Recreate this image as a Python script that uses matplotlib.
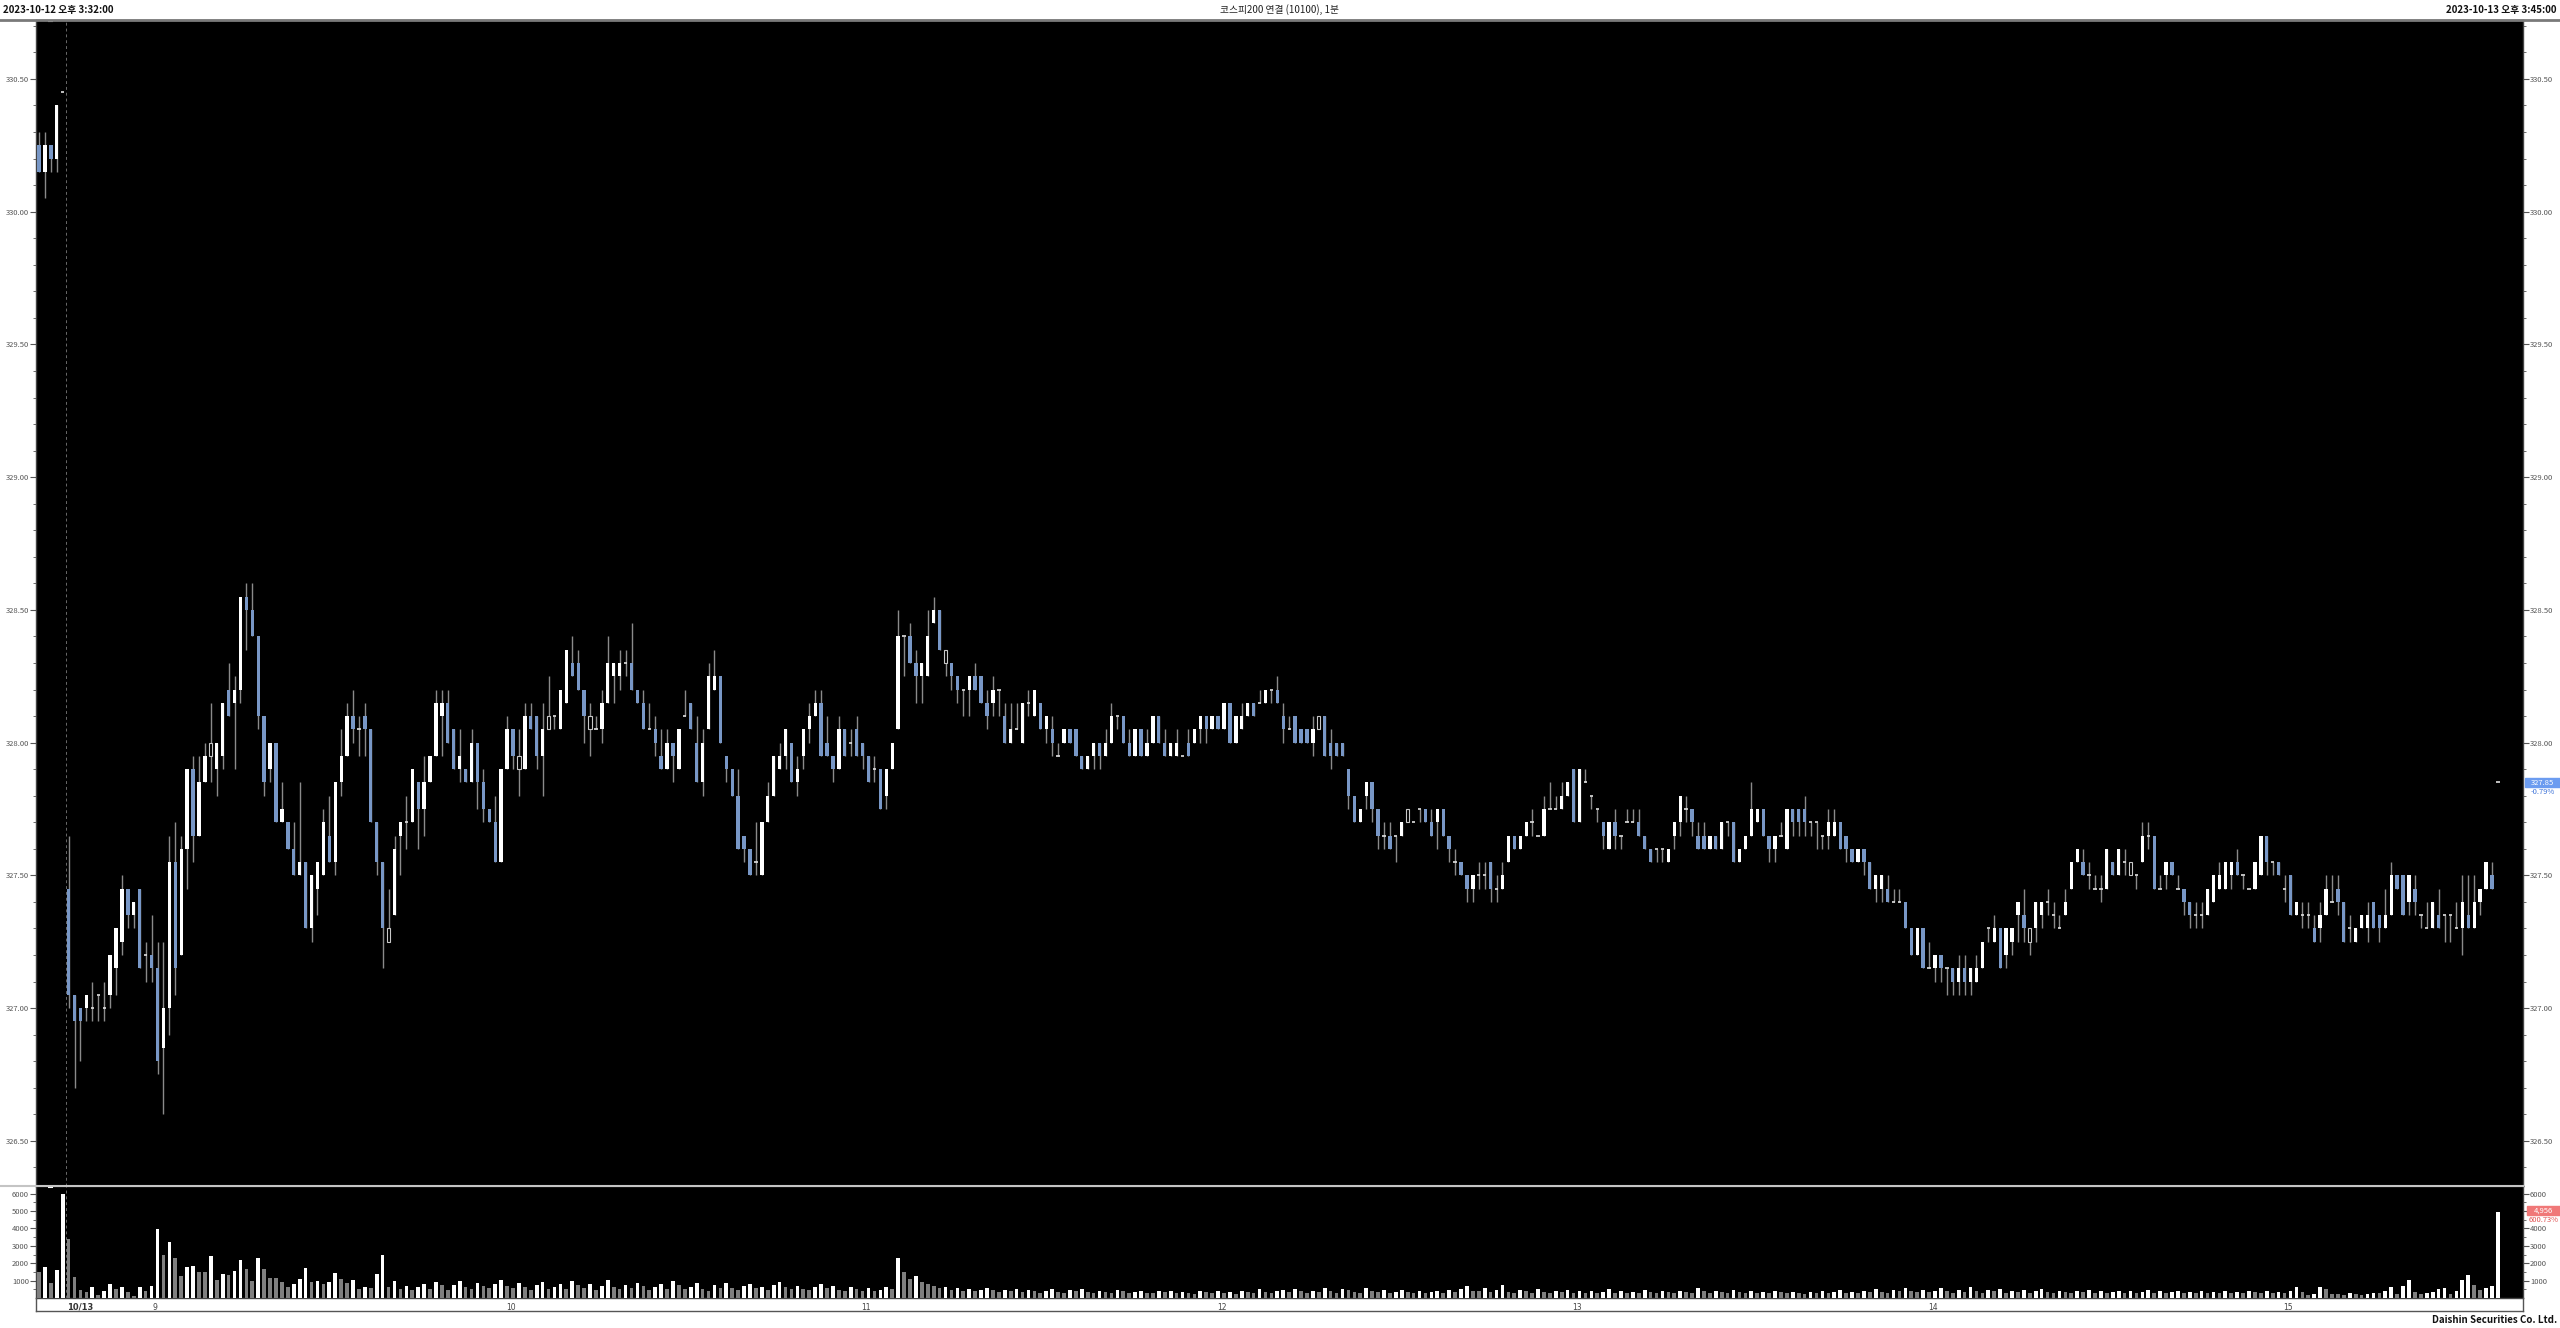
import matplotlib
matplotlib.use("Agg")
import matplotlib.pyplot as plt
import matplotlib.transforms as mtransforms
from matplotlib.patches import Rectangle
from matplotlib.lines import Line2D
import numpy as np

plt.rcParams['font.family'] = ['Noto Sans CJK KR', 'DejaVu Sans']

# 1-minute candles: 5 from 10/12 close, then 10/13 08:45 .. 15:45
opens = [
    330.25, 330.15, 330.25, 330.20, 330.45, 327.45, 327.05, 327.00, 327.00, 327.00,
    327.05, 327.00, 327.05, 327.15, 327.25, 327.45, 327.35, 327.45, 327.20, 327.20,
    327.15, 326.85, 327.00, 327.55, 327.20, 327.60, 327.90, 327.65, 327.85, 327.95,
    327.90, 327.95, 328.20, 328.15, 328.20, 328.55, 328.50, 328.40, 328.10, 327.90,
    328.00, 327.70, 327.70, 327.60, 327.50, 327.55, 327.30, 327.45, 327.50, 327.65,
    327.55, 327.85, 327.95, 328.10, 328.05, 328.10, 328.05, 327.70, 327.55, 327.25,
    327.35, 327.65, 327.70, 327.70, 327.85, 327.75, 327.85, 327.95, 328.10, 328.15,
    328.05, 327.90, 327.90, 327.85, 328.00, 327.85, 327.75, 327.70, 327.55, 327.90,
    328.05, 327.90, 327.90, 328.10, 328.10, 327.95, 328.05, 328.10, 328.05, 328.15,
    328.30, 328.30, 328.20, 328.05, 328.05, 328.05, 328.15, 328.25, 328.25, 328.30,
    328.30, 328.20, 328.15, 328.05, 328.05, 327.95, 327.90, 328.00, 327.90, 328.10,
    328.15, 328.00, 327.85, 328.05, 328.20, 328.25, 327.95, 327.90, 327.80, 327.65,
    327.60, 327.55, 327.50, 327.70, 327.80, 327.90, 327.95, 328.00, 327.85, 327.95,
    328.05, 328.10, 328.15, 328.00, 327.95, 327.90, 328.05, 328.00, 328.05, 328.00,
    327.95, 327.90, 327.90, 327.80, 327.90, 328.05, 328.40, 328.40, 328.30, 328.25,
    328.25, 328.45, 328.50, 328.30, 328.30, 328.25, 328.20, 328.20, 328.25, 328.25,
    328.15, 328.15, 328.20, 328.10, 328.00, 328.05, 328.00, 328.15, 328.10, 328.15,
    328.05, 328.05, 327.95, 328.00, 328.05, 328.05, 327.95, 327.90, 327.95, 328.00,
    327.95, 328.00, 328.10, 328.10, 328.00, 327.95, 328.05, 327.95, 328.00, 328.10,
    328.00, 327.95, 327.95, 327.95, 328.00, 328.00, 328.05, 328.10, 328.05, 328.10,
    328.05, 328.15, 328.00, 328.05, 328.10, 328.15, 328.15, 328.15, 328.20, 328.20,
    328.10, 328.05, 328.10, 328.05, 328.05, 328.00, 328.05, 328.10, 328.00, 328.00,
    328.00, 327.90, 327.80, 327.70, 327.80, 327.85, 327.75, 327.65, 327.65, 327.65,
    327.65, 327.70, 327.70, 327.75, 327.75, 327.70, 327.70, 327.75, 327.65, 327.55,
    327.55, 327.50, 327.45, 327.50, 327.50, 327.55, 327.45, 327.45, 327.55, 327.65,
    327.60, 327.65, 327.70, 327.65, 327.65, 327.75, 327.75, 327.75, 327.80, 327.90,
    327.70, 327.85, 327.80, 327.75, 327.70, 327.60, 327.70, 327.65, 327.70, 327.70,
    327.70, 327.65, 327.60, 327.60, 327.60, 327.55, 327.65, 327.70, 327.75, 327.75,
    327.65, 327.65, 327.60, 327.65, 327.60, 327.70, 327.70, 327.55, 327.60, 327.65,
    327.70, 327.75, 327.65, 327.60, 327.65, 327.60, 327.75, 327.75, 327.75, 327.70,
    327.70, 327.65, 327.65, 327.65, 327.70, 327.65, 327.60, 327.55, 327.60, 327.55,
    327.45, 327.45, 327.45, 327.40, 327.40, 327.40, 327.30, 327.20, 327.30, 327.15,
    327.15, 327.20, 327.15, 327.15, 327.10, 327.15, 327.10, 327.10, 327.15, 327.30,
    327.25, 327.30, 327.20, 327.25, 327.35, 327.35, 327.25, 327.30, 327.35, 327.40,
    327.35, 327.30, 327.35, 327.45, 327.55, 327.55, 327.50, 327.45, 327.45, 327.45,
    327.55, 327.50, 327.55, 327.50, 327.50, 327.55, 327.65, 327.65, 327.45, 327.50,
    327.55, 327.45, 327.45, 327.40, 327.35, 327.35, 327.35, 327.40, 327.45, 327.45,
    327.50, 327.55, 327.50, 327.45, 327.45, 327.50, 327.65, 327.55, 327.55, 327.45,
    327.50, 327.35, 327.35, 327.35, 327.30, 327.30, 327.35, 327.40, 327.45, 327.40,
    327.30, 327.25, 327.30, 327.30, 327.40, 327.35, 327.30, 327.35, 327.50, 327.50,
    327.40, 327.45, 327.35, 327.30, 327.30, 327.35, 327.35, 327.35, 327.30, 327.30,
    327.35, 327.30, 327.40, 327.45, 327.50, 327.85,
]
highs = [
    330.30, 330.30, 330.25, 330.40, 330.45, 327.65, 327.05, 327.00, 327.05, 327.10,
    327.05, 327.10, 327.20, 327.30, 327.50, 327.45, 327.40, 327.45, 327.25, 327.35,
    327.25, 327.25, 327.65, 327.70, 327.65, 327.90, 327.95, 327.95, 328.00, 328.15,
    328.00, 328.15, 328.30, 328.25, 328.55, 328.60, 328.60, 328.40, 328.10, 328.00,
    328.00, 327.85, 327.70, 327.70, 327.85, 327.55, 327.50, 327.55, 327.75, 327.80,
    327.85, 328.05, 328.15, 328.20, 328.10, 328.15, 328.05, 327.70, 327.55, 327.45,
    327.65, 327.70, 327.80, 327.90, 327.85, 327.95, 327.95, 328.20, 328.20, 328.20,
    328.05, 328.05, 327.90, 328.05, 328.00, 327.90, 327.75, 327.80, 327.90, 328.10,
    328.05, 328.05, 328.15, 328.15, 328.10, 328.15, 328.25, 328.10, 328.20, 328.35,
    328.40, 328.35, 328.20, 328.15, 328.10, 328.20, 328.40, 328.30, 328.35, 328.35,
    328.45, 328.20, 328.20, 328.15, 328.10, 328.05, 328.05, 328.00, 328.05, 328.20,
    328.15, 328.10, 328.05, 328.30, 328.35, 328.25, 327.95, 327.90, 327.90, 327.65,
    327.60, 327.70, 327.70, 327.85, 327.95, 328.00, 328.05, 328.00, 327.95, 328.05,
    328.15, 328.20, 328.20, 328.10, 327.95, 328.10, 328.05, 328.05, 328.10, 328.00,
    327.95, 327.95, 327.90, 327.90, 328.00, 328.50, 328.40, 328.45, 328.35, 328.30,
    328.50, 328.55, 328.50, 328.35, 328.30, 328.25, 328.20, 328.25, 328.30, 328.25,
    328.20, 328.25, 328.20, 328.15, 328.15, 328.15, 328.15, 328.20, 328.20, 328.15,
    328.10, 328.10, 328.00, 328.05, 328.05, 328.05, 327.95, 327.95, 328.00, 328.00,
    328.05, 328.15, 328.10, 328.10, 328.05, 328.05, 328.05, 328.05, 328.10, 328.10,
    328.05, 328.00, 328.05, 327.95, 328.05, 328.05, 328.10, 328.10, 328.10, 328.10,
    328.15, 328.15, 328.10, 328.15, 328.15, 328.15, 328.20, 328.20, 328.20, 328.25,
    328.15, 328.10, 328.10, 328.05, 328.05, 328.10, 328.10, 328.10, 328.05, 328.00,
    328.00, 327.90, 327.80, 327.75, 327.85, 327.85, 327.75, 327.70, 327.70, 327.65,
    327.70, 327.75, 327.70, 327.75, 327.75, 327.75, 327.75, 327.75, 327.65, 327.60,
    327.55, 327.50, 327.50, 327.55, 327.55, 327.55, 327.50, 327.55, 327.65, 327.65,
    327.65, 327.70, 327.75, 327.65, 327.80, 327.85, 327.80, 327.85, 327.85, 327.90,
    327.90, 327.90, 327.80, 327.75, 327.70, 327.70, 327.75, 327.65, 327.75, 327.75,
    327.75, 327.65, 327.60, 327.60, 327.60, 327.60, 327.70, 327.80, 327.80, 327.75,
    327.70, 327.70, 327.65, 327.65, 327.70, 327.70, 327.70, 327.60, 327.65, 327.85,
    327.75, 327.75, 327.65, 327.65, 327.70, 327.75, 327.75, 327.75, 327.80, 327.70,
    327.70, 327.65, 327.75, 327.75, 327.70, 327.65, 327.60, 327.60, 327.60, 327.55,
    327.50, 327.50, 327.50, 327.45, 327.45, 327.40, 327.30, 327.30, 327.30, 327.25,
    327.20, 327.20, 327.15, 327.15, 327.20, 327.20, 327.15, 327.20, 327.25, 327.30,
    327.35, 327.30, 327.30, 327.30, 327.40, 327.45, 327.30, 327.40, 327.40, 327.45,
    327.40, 327.35, 327.45, 327.55, 327.60, 327.60, 327.55, 327.50, 327.50, 327.60,
    327.55, 327.60, 327.60, 327.55, 327.50, 327.70, 327.70, 327.65, 327.50, 327.55,
    327.55, 327.50, 327.45, 327.40, 327.40, 327.40, 327.45, 327.50, 327.55, 327.55,
    327.55, 327.60, 327.50, 327.45, 327.55, 327.65, 327.65, 327.55, 327.55, 327.50,
    327.50, 327.40, 327.40, 327.40, 327.35, 327.40, 327.50, 327.50, 327.50, 327.40,
    327.35, 327.30, 327.35, 327.40, 327.40, 327.35, 327.45, 327.55, 327.50, 327.50,
    327.50, 327.50, 327.35, 327.40, 327.40, 327.45, 327.35, 327.35, 327.40, 327.50,
    327.50, 327.50, 327.45, 327.55, 327.55, 327.85,
]
lows = [
    330.15, 330.05, 330.15, 330.15, 330.45, 327.00, 326.70, 326.80, 326.95, 326.95,
    326.95, 326.95, 327.00, 327.05, 327.20, 327.30, 327.30, 327.15, 327.10, 327.10,
    326.75, 326.60, 326.90, 327.05, 327.20, 327.45, 327.55, 327.65, 327.85, 327.85,
    327.80, 327.90, 328.10, 327.90, 328.15, 328.35, 328.40, 328.05, 327.80, 327.85,
    327.70, 327.70, 327.60, 327.50, 327.50, 327.30, 327.25, 327.35, 327.50, 327.55,
    327.50, 327.80, 327.95, 328.00, 327.95, 327.95, 327.70, 327.50, 327.15, 327.25,
    327.35, 327.50, 327.60, 327.70, 327.60, 327.65, 327.85, 327.95, 327.95, 328.00,
    327.90, 327.85, 327.85, 327.85, 327.75, 327.70, 327.70, 327.55, 327.55, 327.90,
    327.90, 327.80, 327.90, 328.05, 327.90, 327.80, 328.05, 328.05, 328.05, 328.15,
    328.25, 328.20, 328.00, 327.95, 328.05, 328.00, 328.15, 328.15, 328.20, 328.25,
    328.20, 328.15, 328.05, 328.05, 327.95, 327.90, 327.90, 327.85, 327.90, 328.10,
    328.05, 327.85, 327.80, 328.05, 328.20, 328.00, 327.85, 327.80, 327.60, 327.55,
    327.50, 327.50, 327.50, 327.70, 327.80, 327.90, 327.90, 327.85, 327.80, 327.90,
    328.00, 328.10, 327.95, 327.95, 327.85, 327.90, 327.95, 327.95, 327.95, 327.90,
    327.85, 327.85, 327.75, 327.75, 327.90, 328.05, 328.25, 328.30, 328.15, 328.15,
    328.25, 328.45, 328.35, 328.25, 328.20, 328.15, 328.10, 328.10, 328.20, 328.15,
    328.05, 328.10, 328.10, 328.00, 328.00, 328.05, 328.00, 328.10, 328.10, 328.05,
    328.00, 327.95, 327.95, 328.00, 328.00, 327.95, 327.90, 327.90, 327.90, 327.90,
    327.95, 328.00, 328.05, 328.00, 327.95, 327.95, 327.95, 327.95, 328.00, 328.00,
    327.95, 327.95, 327.95, 327.95, 327.95, 328.00, 328.00, 328.00, 328.05, 328.05,
    328.05, 328.00, 328.00, 328.05, 328.10, 328.10, 328.15, 328.15, 328.15, 328.15,
    328.00, 328.05, 328.00, 328.00, 328.00, 327.95, 328.05, 327.95, 327.90, 327.95,
    327.95, 327.75, 327.70, 327.70, 327.75, 327.70, 327.60, 327.60, 327.60, 327.55,
    327.65, 327.70, 327.70, 327.70, 327.70, 327.65, 327.60, 327.65, 327.55, 327.50,
    327.50, 327.40, 327.40, 327.45, 327.45, 327.40, 327.40, 327.45, 327.55, 327.60,
    327.60, 327.65, 327.65, 327.65, 327.65, 327.75, 327.75, 327.75, 327.80, 327.70,
    327.70, 327.85, 327.75, 327.70, 327.60, 327.60, 327.60, 327.60, 327.70, 327.70,
    327.65, 327.60, 327.55, 327.55, 327.55, 327.55, 327.60, 327.65, 327.70, 327.65,
    327.60, 327.60, 327.60, 327.60, 327.60, 327.65, 327.55, 327.55, 327.60, 327.65,
    327.70, 327.65, 327.55, 327.55, 327.65, 327.60, 327.65, 327.65, 327.65, 327.65,
    327.60, 327.60, 327.60, 327.65, 327.60, 327.55, 327.55, 327.55, 327.50, 327.45,
    327.40, 327.40, 327.40, 327.40, 327.40, 327.30, 327.20, 327.20, 327.15, 327.15,
    327.10, 327.10, 327.05, 327.05, 327.05, 327.05, 327.05, 327.10, 327.15, 327.25,
    327.25, 327.15, 327.15, 327.20, 327.25, 327.25, 327.20, 327.25, 327.30, 327.35,
    327.30, 327.30, 327.35, 327.45, 327.55, 327.50, 327.45, 327.45, 327.40, 327.45,
    327.50, 327.50, 327.50, 327.50, 327.45, 327.55, 327.60, 327.45, 327.45, 327.45,
    327.50, 327.45, 327.35, 327.30, 327.30, 327.30, 327.35, 327.40, 327.45, 327.45,
    327.45, 327.50, 327.45, 327.45, 327.45, 327.50, 327.50, 327.50, 327.50, 327.40,
    327.35, 327.35, 327.30, 327.30, 327.25, 327.25, 327.35, 327.40, 327.35, 327.25,
    327.25, 327.25, 327.30, 327.25, 327.30, 327.25, 327.30, 327.35, 327.45, 327.35,
    327.35, 327.35, 327.30, 327.30, 327.30, 327.30, 327.25, 327.25, 327.30, 327.20,
    327.30, 327.30, 327.35, 327.45, 327.45, 327.85,
]
closes = [
    330.15, 330.25, 330.20, 330.40, 330.45, 327.05, 326.95, 326.95, 327.05, 327.00,
    327.05, 327.00, 327.20, 327.30, 327.45, 327.35, 327.40, 327.15, 327.20, 327.15,
    326.80, 327.00, 327.55, 327.15, 327.60, 327.90, 327.65, 327.85, 327.95, 328.00,
    328.00, 328.15, 328.10, 328.20, 328.55, 328.50, 328.40, 328.10, 327.85, 328.00,
    327.70, 327.75, 327.60, 327.50, 327.55, 327.30, 327.50, 327.55, 327.70, 327.55,
    327.85, 327.95, 328.10, 328.05, 328.05, 328.05, 327.70, 327.55, 327.30, 327.30,
    327.60, 327.70, 327.70, 327.90, 327.75, 327.85, 327.95, 328.15, 328.15, 328.00,
    327.90, 327.95, 327.85, 328.00, 327.85, 327.75, 327.70, 327.55, 327.90, 328.05,
    327.95, 327.95, 328.10, 328.05, 327.95, 328.05, 328.10, 328.10, 328.20, 328.35,
    328.25, 328.20, 328.10, 328.10, 328.05, 328.15, 328.30, 328.30, 328.30, 328.30,
    328.20, 328.15, 328.05, 328.05, 328.00, 327.90, 328.00, 327.95, 328.05, 328.10,
    328.05, 327.85, 328.00, 328.25, 328.25, 328.00, 327.90, 327.80, 327.60, 327.60,
    327.50, 327.55, 327.70, 327.80, 327.95, 327.95, 328.05, 327.85, 327.90, 328.05,
    328.10, 328.15, 327.95, 327.95, 327.90, 328.05, 327.95, 328.00, 327.95, 327.95,
    327.85, 327.90, 327.75, 327.90, 328.00, 328.40, 328.40, 328.30, 328.25, 328.30,
    328.40, 328.50, 328.35, 328.35, 328.25, 328.20, 328.20, 328.25, 328.20, 328.15,
    328.10, 328.20, 328.20, 328.00, 328.05, 328.05, 328.15, 328.15, 328.20, 328.05,
    328.10, 328.00, 327.95, 328.05, 328.00, 327.95, 327.90, 327.95, 328.00, 327.95,
    328.00, 328.10, 328.10, 328.00, 327.95, 328.05, 327.95, 328.00, 328.10, 328.00,
    327.95, 328.00, 328.00, 327.95, 327.95, 328.05, 328.10, 328.05, 328.10, 328.05,
    328.15, 328.00, 328.10, 328.10, 328.15, 328.10, 328.15, 328.20, 328.20, 328.15,
    328.05, 328.05, 328.00, 328.00, 328.00, 328.05, 328.10, 327.95, 327.95, 327.95,
    327.95, 327.80, 327.70, 327.75, 327.85, 327.75, 327.65, 327.65, 327.60, 327.65,
    327.70, 327.75, 327.70, 327.75, 327.70, 327.65, 327.75, 327.65, 327.60, 327.55,
    327.50, 327.45, 327.50, 327.50, 327.50, 327.45, 327.45, 327.50, 327.65, 327.60,
    327.65, 327.70, 327.70, 327.65, 327.75, 327.75, 327.75, 327.80, 327.85, 327.70,
    327.90, 327.85, 327.80, 327.75, 327.65, 327.70, 327.65, 327.65, 327.70, 327.70,
    327.65, 327.60, 327.55, 327.60, 327.60, 327.60, 327.70, 327.80, 327.75, 327.70,
    327.60, 327.60, 327.65, 327.60, 327.70, 327.70, 327.55, 327.60, 327.65, 327.75,
    327.75, 327.65, 327.60, 327.65, 327.65, 327.75, 327.70, 327.70, 327.70, 327.70,
    327.70, 327.65, 327.70, 327.70, 327.60, 327.60, 327.55, 327.60, 327.55, 327.45,
    327.50, 327.50, 327.40, 327.40, 327.40, 327.30, 327.20, 327.30, 327.15, 327.15,
    327.20, 327.15, 327.15, 327.10, 327.15, 327.10, 327.15, 327.15, 327.25, 327.30,
    327.30, 327.15, 327.30, 327.30, 327.40, 327.30, 327.30, 327.40, 327.40, 327.40,
    327.35, 327.30, 327.40, 327.55, 327.60, 327.50, 327.50, 327.45, 327.45, 327.60,
    327.50, 327.60, 327.55, 327.55, 327.50, 327.65, 327.65, 327.45, 327.45, 327.55,
    327.50, 327.45, 327.40, 327.35, 327.35, 327.35, 327.45, 327.50, 327.50, 327.55,
    327.55, 327.50, 327.50, 327.45, 327.55, 327.65, 327.55, 327.55, 327.50, 327.45,
    327.35, 327.40, 327.35, 327.35, 327.25, 327.35, 327.45, 327.40, 327.40, 327.25,
    327.30, 327.30, 327.35, 327.35, 327.30, 327.30, 327.35, 327.50, 327.45, 327.35,
    327.50, 327.40, 327.35, 327.30, 327.40, 327.30, 327.35, 327.35, 327.30, 327.40,
    327.30, 327.40, 327.45, 327.55, 327.45, 327.85,
]
volumes = [
    1500, 1760, 860, 1610, 5980, 3410, 1190, 440, 330, 650,
    170, 420, 790, 520, 610, 330, 115, 610, 420, 670,
    3950, 2450, 3200, 2320, 1250, 1780, 1820, 1490, 1480, 2390,
    1015, 1400, 1340, 1530, 2200, 1650, 980, 2320, 1650, 1150,
    1140, 940, 630, 820, 1070, 1720, 900, 1000, 785, 940,
    1460, 1070, 860, 1015, 520, 650, 575, 1400, 2490, 650,
    960, 540, 710, 440, 650, 820, 540, 900, 720, 480,
    760, 950, 620, 540, 880, 700, 560, 820, 1040, 680,
    560, 860, 640, 480, 720, 900, 540, 660, 780, 520,
    980, 740, 600, 820, 460, 700, 1060, 640, 520, 760,
    580, 880, 700, 460, 620, 800, 540, 980, 720, 500,
    660, 840, 520, 400, 720, 600, 880, 560, 460, 700,
    820, 560, 640, 480, 760, 900, 620, 500, 700, 540,
    460, 620, 800, 560, 700, 480, 380, 640, 520, 420,
    560, 380, 460, 620, 500, 2280, 1500, 1080, 1260, 900,
    820, 700, 600, 640, 480, 560, 420, 500, 380, 460,
    560, 440, 360, 480, 400, 520, 340, 460, 380, 300,
    420, 500, 360, 300, 440, 380, 520, 340, 280, 400,
    360, 300, 460, 380, 280, 340, 420, 300, 260, 380,
    320, 420, 280, 360, 300, 240, 380, 320, 260, 400,
    300, 360, 240, 420, 320, 280, 500, 340, 260, 380,
    460, 320, 540, 380, 300, 420, 360, 600, 380, 300,
    520, 440, 360, 300, 560, 380, 320, 440, 280, 360,
    480, 340, 300, 420, 260, 340, 380, 300, 440, 360,
    520, 680, 420, 380, 600, 340, 480, 720, 360, 300,
    440, 380, 300, 520, 360, 280, 400, 340, 460, 300,
    380, 300, 420, 280, 360, 520, 300, 400, 260, 340,
    300, 460, 340, 280, 380, 320, 260, 420, 340, 300,
    560, 400, 300, 420, 360, 280, 460, 340, 300, 380,
    260, 340, 280, 400, 320, 260, 360, 300, 240, 340,
    300, 380, 260, 320, 440, 280, 360, 300, 420, 340,
    520, 360, 300, 460, 380, 600, 420, 340, 480, 360,
    420, 560, 380, 300, 480, 360, 620, 400, 300, 460,
    380, 520, 300, 420, 340, 460, 300, 380, 520, 360,
    300, 420, 340, 280, 400, 320, 460, 300, 380, 280,
    340, 420, 300, 380, 260, 340, 460, 300, 380, 280,
    320, 400, 280, 360, 300, 420, 260, 340, 300, 380,
    280, 360, 300, 420, 340, 280, 380, 300, 360, 260,
    420, 640, 364, 153, 250, 613, 536, 250, 240, 190,
    306, 210, 153, 250, 287, 280, 383, 613, 250, 709,
    1034, 345, 250, 287, 325, 517, 575, 250, 421, 1034,
    1341, 747, 460, 575, 707, 4956,
]
hollow = [29, 59, 81, 86, 93, 153, 216, 231, 336, 353]

hour_pos = [20, 80, 140, 200, 260, 320, 380]
hour_labels = ["9", "10", "11", "12", "13", "14", "15"]
day_sep = 4.5

o = np.array(opens); hi = np.array(highs); lo = np.array(lows); c = np.array(closes)
v = np.array(volumes)
x = np.arange(len(o))

W, H = 2560, 1328
def fx(px):
    return px / W
def fy(py):
    return 1 - py / H

L, R = 36, 2523
TOP, MID, VBOT, BOT = 20, 1186, 1298, 1311
step = 5.925
xlim = ((L - 39) / step, (R - 39) / step)

fig = plt.figure(figsize=(25.6, 13.28), dpi=100)
fig.patch.set_facecolor('white')
ax = fig.add_axes([fx(L), fy(MID), (R - L) / W, (MID - TOP) / H])
axv = fig.add_axes([fx(L), fy(VBOT), (R - L) / W, (VBOT - MID) / H])

blue = '#7897c6'
wick = '#8a8a8a'
tick_col = '#555555'

for a in (ax, axv):
    a.set_facecolor('black')
    a.set_xlim(*xlim)
    for s in a.spines.values():
        s.set_color('#444444')
        s.set_linewidth(1)
    a.axvline(day_sep, color='#6a6a6a', lw=0.7, ls=(0, (3, 3)), zorder=1)
    a.tick_params(axis='x', bottom=False, labelbottom=False)

# price panel
ax.set_ylim(326.330, 330.722)
ax.vlines(x, lo, hi, color=wick, lw=1, zorder=2)
up = c > o + 1e-9
down = c < o - 1e-9
flat = ~(up | down)
is_hollow = np.zeros(len(x), bool)
is_hollow[hollow] = True
bw = 0.56
ax.bar(x[up & ~is_hollow], (c - o)[up & ~is_hollow], bottom=o[up & ~is_hollow],
       width=bw, color='white', lw=0, zorder=3)
ax.bar(x[down & ~is_hollow], (c - o)[down & ~is_hollow], bottom=o[down & ~is_hollow],
       width=bw, color=blue, lw=0, zorder=3)
hb = is_hollow & ~flat
ax.bar(x[hb], np.abs(c - o)[hb], bottom=np.minimum(o, c)[hb], width=bw,
       facecolor='black', edgecolor='#c8c8c8', lw=0.8, zorder=3)
ax.hlines(c[flat], x[flat] - bw / 2, x[flat] + bw / 2, color='#e0e0e0', lw=1.2, zorder=3)

ax.set_yticks(np.arange(326.5, 330.51, 0.5))
ax.set_yticks(np.arange(326.4, 330.71, 0.1), minor=True)
ax.set_yticklabels([f"{t:.2f}" for t in np.arange(326.5, 330.51, 0.5)])
ax.tick_params(axis='y', which='both', left=True, right=True, labelleft=True,
               labelright=True, direction='out', colors=tick_col, labelsize=5.5, pad=1)
ax.tick_params(axis='y', which='major', length=4)
ax.tick_params(axis='y', which='minor', length=2.5)

# volume panel
vmax = 6437
axv.set_ylim(0, vmax)
vcol = ['#7f7f7f'] + ['white' if v[i] > v[i - 1] else '#7f7f7f' for i in range(1, len(v))]
axv.bar(x, v, width=0.62, color=vcol, lw=0, zorder=3)
vt = np.arange(1000, 6001, 1000)
axv.set_yticks(vt)
axv.set_yticks(np.arange(500, 6001, 500), minor=True)
axv.set_yticklabels([str(t) for t in vt])
axv.tick_params(axis='y', which='both', left=True, right=False, labelleft=True,
                labelright=False, direction='out', colors=tick_col, labelsize=5.5, pad=1)
axv.tick_params(axis='y', which='major', length=4)
axv.tick_params(axis='y', which='minor', length=2.5)

# right-hand volume scale (5000 sits under the last-volume tag)
axr = axv.twinx()
axr.set_ylim(0, vmax)
axr.set_yticks(vt)
axr.set_yticks(np.arange(500, 6001, 500), minor=True)
axr.set_yticklabels(['' if t == 5000 else str(t) for t in vt])
axr.tick_params(axis='y', which='both', direction='out', colors=tick_col, labelsize=5.5, pad=1)
axr.tick_params(axis='y', which='major', length=4)
axr.tick_params(axis='y', which='minor', length=2.5)
for s in axr.spines.values():
    s.set_visible(False)

# small white markers at the top of both panels
ax.hlines(ax.get_ylim()[1] - 0.004, 1.6, 2.4, color='white', lw=1.5, zorder=5, clip_on=False)
axv.hlines(6400, 1.6, 2.4, color='white', lw=1.5, zorder=5, clip_on=False)

# time labels under the volume panel
bt = mtransforms.blended_transform_factory(axv.transData, fig.transFigure)
axv.text(day_sep + 0.3, fy(1307), "10/13", transform=bt, ha='left', va='center',
         fontsize=6, fontweight='bold', color='#333333', family=['DejaVu Sans'])
for p, lab in zip(hour_pos, hour_labels):
    axv.text(p - 0.4, fy(1307), lab, transform=bt, ha='center', va='center',
             fontsize=5.5, color='#444444', family=['DejaVu Sans'])

# frame lines
frame = '#555555'
fig.add_artist(Line2D([0, 1], [fy(TOP), fy(TOP)], color='#7a7a7a', lw=2, transform=fig.transFigure))
fig.add_artist(Line2D([0, fx(R)], [fy(MID), fy(MID)], color='#c4c4c4', lw=1.5, transform=fig.transFigure))
fig.add_artist(Line2D([fx(L), fx(R)], [fy(BOT), fy(BOT)], color=frame, lw=1, transform=fig.transFigure))
fig.add_artist(Line2D([fx(L), fx(L)], [fy(VBOT), fy(BOT)], color=frame, lw=1, transform=fig.transFigure))
fig.add_artist(Line2D([fx(R), fx(R)], [fy(VBOT), fy(BOT)], color=frame, lw=1, transform=fig.transFigure))

# header
fig.text(fx(3), fy(10), "2023-10-12 오후 3:32:00", ha='left', va='center',
         fontsize=7, fontweight='bold', color='#111111')
fig.text(0.5, fy(10), "코스피200 연결 (10100), 1분", ha='center', va='center',
         fontsize=7, color='#222222')
fig.text(fx(2557), fy(10), "2023-10-13 오후 3:45:00", ha='right', va='center',
         fontsize=7, fontweight='bold', color='#111111')
fig.text(fx(2557), fy(1320), "Daishin Securities Co. Ltd.", ha='right', va='center',
         fontsize=7, fontweight='bold', color='#111111')

# last price / last volume tags
fig.add_artist(Rectangle((fx(2525), fy(787)), fx(35), 9 / H, color='#6c9cf0',
                         transform=fig.transFigure, zorder=10))
fig.text(fx(2542), fy(782.5), f"{c[-1]:.2f}", ha='center', va='center', fontsize=5.5,
         color='white', zorder=11)
fig.text(fx(2543), fy(792), "-0.79%", ha='center', va='center', fontsize=5.5,
         color='#3f74d8', zorder=11)
fig.add_artist(Rectangle((fx(2527), fy(1215)), fx(33), 9 / H, color='#f07878',
                         transform=fig.transFigure, zorder=10))
fig.text(fx(2543), fy(1210.5), f"{v[-1]:,}", ha='center', va='center', fontsize=5.5,
         color='white', zorder=11)
fig.text(fx(2544), fy(1220), "600.73%", ha='center', va='center', fontsize=5.5,
         color='#e05050', zorder=11)

fig.savefig("out.png", dpi=100, facecolor='white')
